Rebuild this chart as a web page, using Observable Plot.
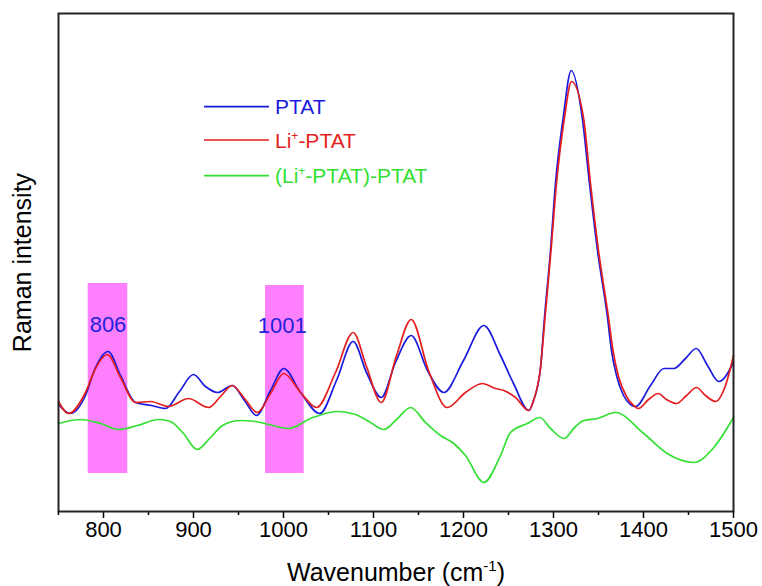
<!DOCTYPE html>
<html><head><meta charset="utf-8">
<script src="https://cdn.jsdelivr.net/npm/d3@7"></script>
<script src="https://cdn.jsdelivr.net/npm/@observablehq/plot@0.6"></script>
<style>
body{margin:0;background:#fff;}
#chart{width:762px;height:586px;}
</style></head><body><div id="chart"></div>
<script>
// Series names and colours (legend order)
const seriesNames = ["PTAT", "Li+-PTAT", "(Li+-PTAT)-PTAT"];
const seriesColors = ["#1a1adc", "#e41e1e", "#33e033"];

// PTAT: wavenumber (cm-1) and Raman intensity (arb. units)
const ptatX = [750, 763.3, 780, 791.1, 805.2, 818.9, 835.6, 853.3, 868.9, 884.4, 900, 913.3, 926.7, 943, 956.7, 970, 985.6, 1000.3, 1019, 1040.3, 1058.9, 1077.4, 1092.2, 1108.6, 1124.4, 1141.9, 1160, 1178.1, 1200, 1222.6, 1241.1, 1255.6, 1272.6, 1277.8, 1285.6, 1290, 1296.7, 1302.2, 1310.8, 1319.7, 1331.9, 1340, 1348.9, 1360, 1364.4, 1370, 1377.8, 1385.6, 1391.1, 1407.8, 1422.6, 1433.7, 1446.7, 1458.6, 1471.1, 1483.7, 1500];
const ptatY = [107, 98, 116, 144, 160, 136, 109, 106, 103, 120, 137, 125, 119, 126, 111, 96, 121, 143, 119, 98, 131, 170, 139, 114, 149, 176, 141, 119, 151, 186, 156, 128, 101, 111, 144, 194, 261, 328, 394, 441, 394, 328, 261, 194, 161, 136, 116, 107, 105, 126, 143, 143, 153, 163, 146, 130, 149];

// Li+-PTAT
const liX = [750, 761.1, 780, 791.1, 804.1, 818.9, 835.6, 852.2, 872.2, 894.4, 916.7, 930, 943, 956.7, 970.8, 985.6, 1000.3, 1019, 1036.7, 1057.8, 1077.4, 1092.2, 1108.6, 1125.6, 1141.9, 1161.1, 1181.9, 1202.2, 1220.8, 1235.6, 1244.8, 1257.8, 1272.6, 1277.8, 1285.6, 1290.6, 1297.2, 1303.3, 1312.2, 1320, 1333.3, 1341.1, 1350, 1361.1, 1366.1, 1372.2, 1381.1, 1388.9, 1394.4, 1405.6, 1416.3, 1425.6, 1436.7, 1447.8, 1458.9, 1468.9, 1480, 1491.1, 1500];
const liY = [110, 98, 119, 143, 157, 134, 109, 110, 105, 113, 104, 115, 126, 113, 99, 118, 138, 119, 104, 139, 179, 145, 109, 156, 192, 141, 104, 119, 128, 123, 121, 114, 101, 111, 144, 194, 261, 328, 394, 430, 394, 328, 261, 194, 161, 135, 115, 106, 103, 112, 118, 112, 108, 116, 124, 116, 110, 126, 156];

// (Li+-PTAT)-PTAT difference
const diffX = [750, 774.4, 796.7, 817, 837.8, 861.1, 874.4, 888.9, 904.1, 918.9, 932.2, 952.2, 968.9, 985.6, 1005.9, 1030, 1059.7, 1080, 1096.7, 1111.4, 1126.7, 1141.1, 1157.8, 1174.4, 1189.2, 1202.2, 1222.6, 1241.1, 1252.2, 1270.8, 1284.8, 1296.7, 1311.4, 1324.4, 1333.7, 1348.6, 1368.9, 1400.3, 1426.3, 1455.9, 1478.1, 1500];
const diffY = [88, 92, 88, 82, 86, 92, 90, 78, 62, 74, 86, 91, 90, 86.5, 83, 93, 100, 97, 89, 82, 93, 104, 89, 76, 68, 56, 29, 56, 79, 88, 94, 83, 73, 85, 91, 93, 99, 78, 58, 49, 64, 94];

// Highlighted bands
const bandLabels = ["806", "1001"];
const bandX1 = [783, 980];
const bandX2 = [827, 1023];
const bandY1 = [38, 38];
const bandY2 = [228, 226];
const bandLabelX = [805, 998.5];
const bandLabelY = [187, 186];

// Axis ticks
const majorTicks = [800, 900, 1000, 1100, 1200, 1300, 1400, 1500];
const minorTicks = [750, 850, 950, 1050, 1150, 1250, 1350, 1450];

const mk = (xs, ys) => xs.map((x, i) => ({x, y: ys[i]}));
const ptat = mk(ptatX, ptatY);
const li = mk(liX, liY);
const diff = mk(diffX, diffY);
const bands = bandLabels.map((label, i) => ({label, x1: bandX1[i], x2: bandX2[i], y1: bandY1[i], y2: bandY2[i], lx: bandLabelX[i], ly: bandLabelY[i]}));

const FONT = "'Liberation Sans', Arial, Helvetica, sans-serif";

const plot = Plot.plot({
  width: 762, height: 586,
  marginLeft: 58, marginRight: 29, marginTop: 13, marginBottom: 75,
  style: {fontFamily: FONT, background: "#fff", color: "#000", overflow: "visible"},
  x: {domain: [750, 1500]},
  y: {domain: [0, 498], axis: null},
  marks: [
    Plot.rect(bands, {x1: "x1", x2: "x2", y1: "y1", y2: "y2", fill: "#ff80ff"}),
    Plot.text(bands, {x: "lx", y: "ly", text: "label", fill: "#2222d8", fontSize: 22}),
    Plot.line(diff, {x: "x", y: "y", stroke: seriesColors[2], strokeWidth: 1.7, curve: "monotone-x"}),
    Plot.line(ptat, {x: "x", y: "y", stroke: seriesColors[0], strokeWidth: 1.7, curve: "monotone-x"}),
    Plot.line(li, {x: "x", y: "y", stroke: seriesColors[1], strokeWidth: 1.7, curve: "monotone-x"}),
    Plot.axisX({ticks: majorTicks, tickSize: 7, tickPadding: 3, fontSize: 22, strokeWidth: 1.5, tickFormat: d => String(d), label: null}),
    Plot.axisX({ticks: minorTicks, tickSize: 4, tickFormat: () => "", strokeWidth: 1.5, label: null}),
    Plot.text(["Raman intensity"], {frameAnchor: "left", rotate: -90, dx: -36, textAnchor: "middle", lineAnchor: "middle", fontSize: 25}),
    Plot.text(["Wavenumber (cm-1)"], {frameAnchor: "bottom", dy: 61, textAnchor: "middle", lineAnchor: "middle", fontSize: 25}),
    Plot.frame({stroke: "#222", strokeWidth: 2})
  ]
});

document.getElementById("chart").appendChild(plot);

// superscript in axis title
plot.querySelectorAll("text").forEach(t => {
  if (t.textContent === "Wavenumber (cm-1)") {
    t.innerHTML = 'Wavenumber (cm<tspan dy="-10" font-size="15">-1</tspan><tspan dy="10">)</tspan>';
  }
});

// legend inside the frame
const svg = d3.select(plot);
const lg = svg.append("g").attr("font-family", FONT).attr("font-size", 21).attr("text-anchor", "start");
const rowY = [106.7, 140, 175.7];
seriesNames.forEach((name, i) => {
  lg.append("line").attr("x1", 204).attr("x2", 269).attr("y1", rowY[i]).attr("y2", rowY[i])
    .attr("stroke", seriesColors[i]).attr("stroke-width", 1.7);
  const t = lg.append("text").attr("x", 275).attr("y", rowY[i]).attr("dy", "0.36em")
    .attr("fill", seriesColors[i]).attr("text-anchor", "start");
  if (name.includes("Li+")) {
    const parts = name.split("Li+");
    t.html(parts[0] + 'Li<tspan dy="-8" font-size="12">+</tspan><tspan dy="8">' + parts[1] + '</tspan>');
  } else {
    t.text(name);
  }
});
</script>
</body></html>
